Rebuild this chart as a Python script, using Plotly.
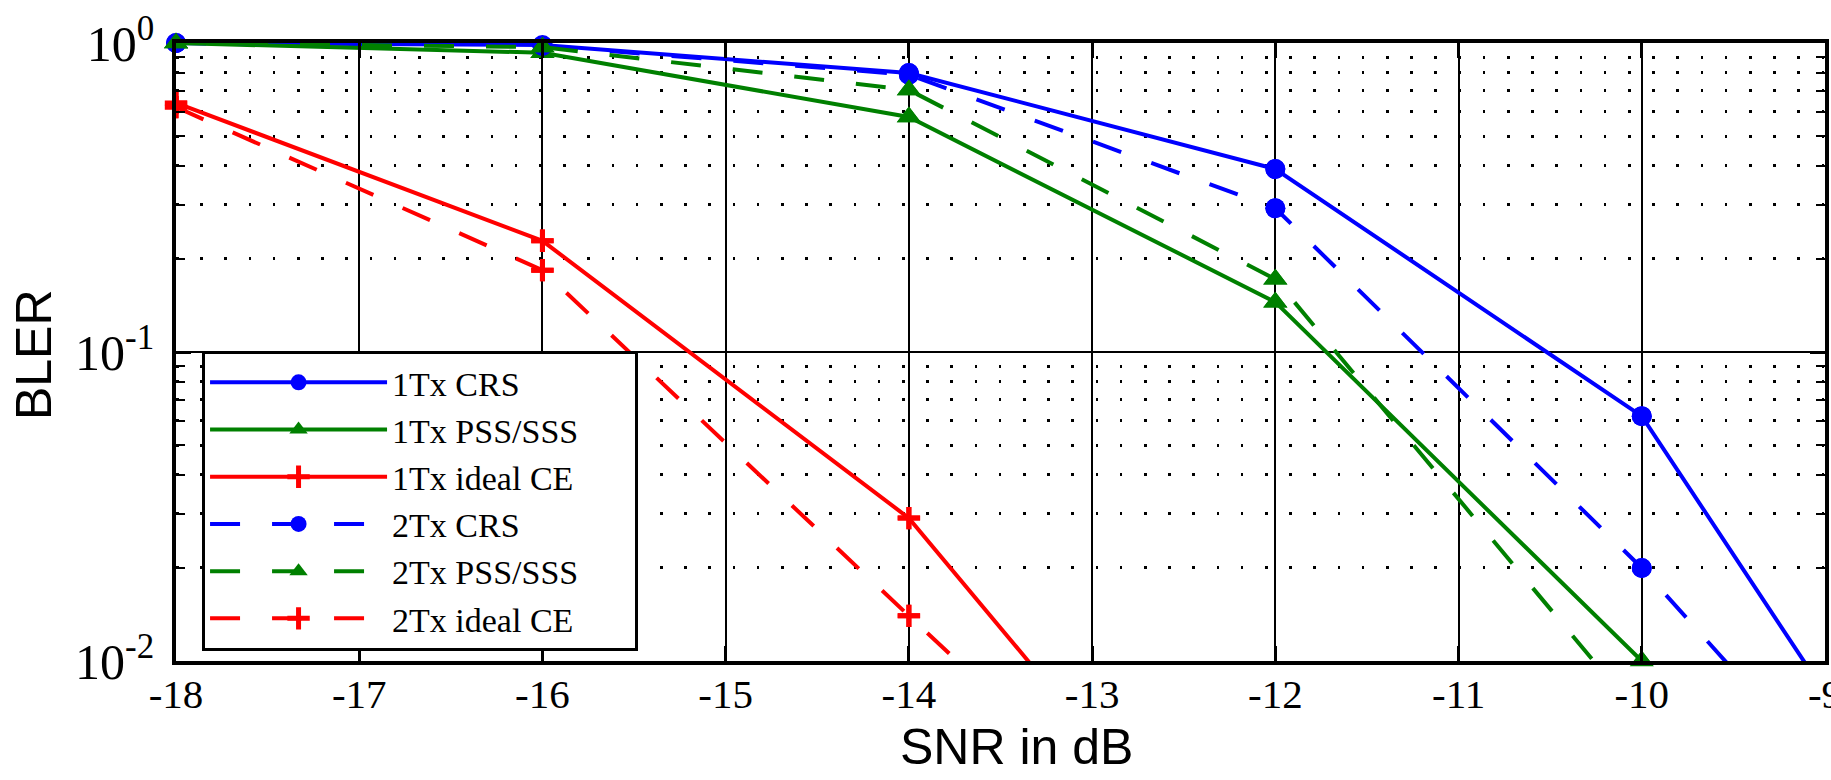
import plotly.graph_objects as go

snr = [-18, -16, -14, -12, -10, -8]

tx1_crs = [1.0, 0.985, 0.80, 0.391, 0.062, 0.001]
tx1_pss = [1.0, 0.93, 0.576, 0.145, 0.0100]
tx1_ideal = [0.64, 0.229, 0.029, 0.0011]
tx2_crs = [1.0, 0.98, 0.79, 0.292, 0.020, 0.00095]
tx2_pss = [1.0, 0.97, 0.705, 0.172, 0.0065]
tx2_ideal = [0.62, 0.184, 0.014, 0.0011]

names = ["1Tx CRS", "1Tx PSS/SSS", "1Tx ideal CE", "2Tx CRS", "2Tx PSS/SSS", "2Tx ideal CE"]
series = [tx1_crs, tx1_pss, tx1_ideal, tx2_crs, tx2_pss, tx2_ideal]
colors = ["#0000FF", "#008000", "#FF0000", "#0000FF", "#008000", "#FF0000"]
symbols = ["circle", "triangle-up", "cross-thin", "circle", "triangle-up", "cross-thin"]
dashes = ["solid", "solid", "solid", "30px,32px", "30px,32px", "30px,32px"]

x_ticks = [-18, -17, -16, -15, -14, -13, -12, -11, -10, -9]
y_ticks = [0.01, 0.1, 1]
y_ticktext = ["10<sup>-2</sup>", "10<sup>-1</sup>", "10<sup>0</sup>"]
y_minor = [m * d for d in (0.01, 0.1) for m in range(2, 10)]
x_title = "SNR in dB"
y_title = "BLER"

fig = go.Figure()


def marker_style(sym, col):
    if sym == "cross-thin":
        return dict(symbol=sym, size=16, color=col, line=dict(color=col, width=5))
    if sym == "circle":
        return dict(symbol=sym, size=20, color=col, line=dict(width=0))
    return dict(symbol=sym, size=21, color=col, line=dict(width=0))


pad = "\u00a0" * 6
for name, ys, col, sym, dash in zip(names, series, colors, symbols, dashes):
    xs = snr[:len(ys)]
    fig.add_trace(go.Scatter(
        x=xs, y=ys, name=name + pad, mode="lines+markers",
        line=dict(color=col, width=4, dash=dash),
        marker=marker_style(sym, col),
    ))
    inx = [x for x, y in zip(xs, ys) if y >= 0.00999]
    iny = [y for y in ys if y >= 0.00999]
    fig.add_trace(go.Scatter(
        x=inx, y=iny, mode="markers", showlegend=False, cliponaxis=False,
        marker=marker_style(sym, col), hoverinfo="skip",
    ))

serif = "Liberation Serif"
sans = "Liberation Sans"

fig.update_layout(
    width=1831, height=780,
    margin=dict(l=176, r=6, t=43, b=119, autoexpand=False),
    paper_bgcolor="white", plot_bgcolor="white",
    font=dict(family=serif, color="black", size=36),
    showlegend=True,
    legend=dict(
        x=0.0158, y=0.502, xanchor="left", yanchor="top",
        bgcolor="white", bordercolor="black", borderwidth=3,
        font=dict(family=serif, size=34, color="black"),
        itemwidth=177, tracegroupgap=0,
    ),
    annotations=[
        dict(text=x_title, xref="paper", yref="paper", x=0.51, y=-0.139,
             xanchor="center", yanchor="middle", showarrow=False,
             font=dict(family=sans, size=50, color="black")),
        dict(text=y_title, xref="paper", yref="paper", x=-0.0861, y=0.495,
             xanchor="center", yanchor="middle", showarrow=False, textangle=-90,
             font=dict(family=sans, size=50, color="black")),
    ],
)

fig.update_xaxes(
    range=[-18, -9], tickvals=x_ticks, ticktext=[str(v) for v in x_ticks],
    automargin=False,
    showline=True, linecolor="black", linewidth=3.5, mirror="allticks",
    ticks="inside", ticklen=15, tickwidth=2.5, tickcolor="black",
    showgrid=True, gridcolor="black", gridwidth=1.5,
    zeroline=False, ticklabelstandoff=-6, ticklabeloverflow="allow",
    tickfont=dict(family=serif, size=41, color="black"),
)

fig.update_yaxes(
    type="log", range=[-2, 0], tickvals=y_ticks, ticktext=y_ticktext,
    automargin=False,
    showline=True, linecolor="black", linewidth=3.5, mirror="allticks",
    ticks="inside", ticklen=15, tickwidth=2.5, tickcolor="black",
    showgrid=True, gridcolor="black", gridwidth=1.5,
    zeroline=False, ticklabelstandoff=8, ticklabeloverflow="allow",
    tickfont=dict(family=serif, size=50, color="black"),
    minor=dict(tickvals=y_minor, ticks="inside", ticklen=9, tickwidth=2, tickcolor="black",
               showgrid=True, gridcolor="black", gridwidth=2.5, griddash="2.5px,21.7px"),
)

fig.write_html("out.html")
